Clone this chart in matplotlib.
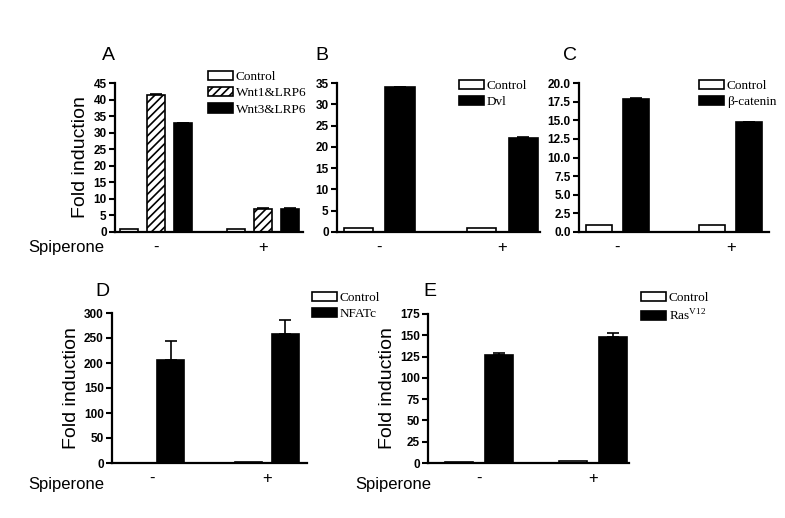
import matplotlib.pyplot as plt
import numpy as np

W, H = 785, 518

groups = ['-', '+']

# panel A
a_control = [1.0, 1.0]
a_wnt1 = [41.3, 7.0]
a_wnt1_err = [0.3, 0.2]
a_wnt3 = [33.0, 7.0]
a_wnt3_err = [0.0, 0.2]

# panel B
b_control = [1.0, 1.0]
b_dvl = [34.0, 22.0]
b_dvl_err = [0.1, 0.2]

# panel C
c_control = [1.0, 1.0]
c_cat = [17.8, 14.7]
c_cat_err = [0.2, 0.1]

# panel D
d_control = [1.0, 2.0]
d_nfat = [206.0, 259.0]
d_nfat_err = [38.0, 28.0]

# panel E
e_control = [1.0, 2.0]
e_ras = [127.0, 148.0]
e_ras_err = [2.0, 4.5]

plt.rcParams['font.family'] = ['Liberation Sans', 'DejaVu Sans']
plt.rcParams['hatch.linewidth'] = 1.2

fig = plt.figure(figsize=(W / 100, H / 100), dpi=100)


def px_axes(l, r, t, b):
    return fig.add_axes([l / W, 1 - b / H, (r - l) / W, (b - t) / H])


def style(ax, ymax, step, fmt, xlim):
    for s in ['top', 'right']:
        ax.spines[s].set_visible(False)
    for s in ['left', 'bottom']:
        ax.spines[s].set_linewidth(1.6)
    ax.set_ylim(0, ymax)
    ax.set_xlim(*xlim)
    ticks = np.arange(0, ymax + step / 2, step)
    ax.set_yticks(ticks)
    ax.set_yticklabels([fmt % t for t in ticks], fontsize=8.5, fontweight='bold')
    ax.tick_params(axis='y', length=4, width=1.5, pad=2)
    ax.set_xticks([0, 1])
    ax.set_xticklabels(groups, fontsize=12)
    ax.tick_params(axis='x', length=0, pad=6)


def bars(ax, xs, vals, err, width, face, hatch=None, label=None):
    ax.bar(xs, vals, width, color=face, edgecolor='black', linewidth=1.2,
           hatch=hatch, label=label, zorder=2)
    if err is not None:
        ax.errorbar(xs, vals, yerr=[np.zeros(len(vals)), err], fmt='none',
                    ecolor='black', elinewidth=1.2, capsize=4, capthick=1.2, zorder=1)


def legend(ax, x, y):
    ax.legend(loc='upper left', bbox_to_anchor=(x / W, 1 - y / H),
              bbox_transform=fig.transFigure, frameon=False, borderaxespad=0,
              borderpad=0, handlelength=1.9, handleheight=0.7, handletextpad=0.2,
              labelspacing=0.3, prop={'family': 'Liberation Serif', 'size': 9.5})


x = np.arange(2)

# A
ax = px_axes(115, 303, 83, 232)
off, w = 0.252, 0.168
bars(ax, x - off, a_control, None, w, 'white', label='Control')
bars(ax, x, a_wnt1, a_wnt1_err, w, 'white', hatch='////', label='Wnt1&LRP6')
bars(ax, x + off, a_wnt3, a_wnt3_err, w, 'black', label='Wnt3&LRP6')
style(ax, 45, 5, '%d', (-0.383, 1.374))
ax.set_ylabel('Fold induction', fontsize=14, labelpad=3)
legend(ax, 208, 71)

# B
ax = px_axes(337, 540, 83, 232)
off, w = 0.167, 0.236
bars(ax, x - off, b_control, None, w, 'white', label='Control')
bars(ax, x + off, b_dvl, b_dvl_err, w, 'black', label='Dvl')
style(ax, 35, 5, '%d', (-0.345, 1.305))
legend(ax, 459, 80)

# C
ax = px_axes(579, 769, 83, 232)
off, w = 0.163, 0.229
bars(ax, x - off, c_control, None, w, 'white', label='Control')
bars(ax, x + off, c_cat, c_cat_err, w, 'black', label='β-catenin')
style(ax, 20, 2.5, '%.1f', (-0.339, 1.335))
legend(ax, 699, 80)

# D
ax = px_axes(112, 307, 313, 463)
off, w = 0.163, 0.235
bars(ax, x - off, d_control, None, w, 'white', label='Control')
bars(ax, x + off, d_nfat, d_nfat_err, w, 'black', label='NFATc')
style(ax, 300, 50, '%d', (-0.346, 1.35))
ax.set_ylabel('Fold induction', fontsize=14, labelpad=3)
legend(ax, 312, 292)

# E
ax = px_axes(428, 629, 314, 463)
off, w = 0.175, 0.246
bars(ax, x - off, e_control, None, w, 'white', label='Control')
bars(ax, x + off, e_ras, e_ras_err, w, 'black', label=r'Ras$^{\mathregular{V12}}$')
style(ax, 175, 25, '%d', (-0.447, 1.316))
ax.set_ylabel('Fold induction', fontsize=14, labelpad=3)
legend(ax, 641, 292)

# panel letters
for lab, px, py in [('A', 108, 55), ('B', 322, 55), ('C', 570, 55), ('D', 102, 292), ('E', 430, 292)]:
    fig.text(px / W, 1 - py / H, lab, fontsize=14, ha='center', va='center')

for px, py in [(28, 248), (28, 485), (355, 485)]:
    fig.text(px / W, 1 - py / H, 'Spiperone', fontsize=12, ha='left', va='center')

fig.savefig('out.png', dpi=100)
